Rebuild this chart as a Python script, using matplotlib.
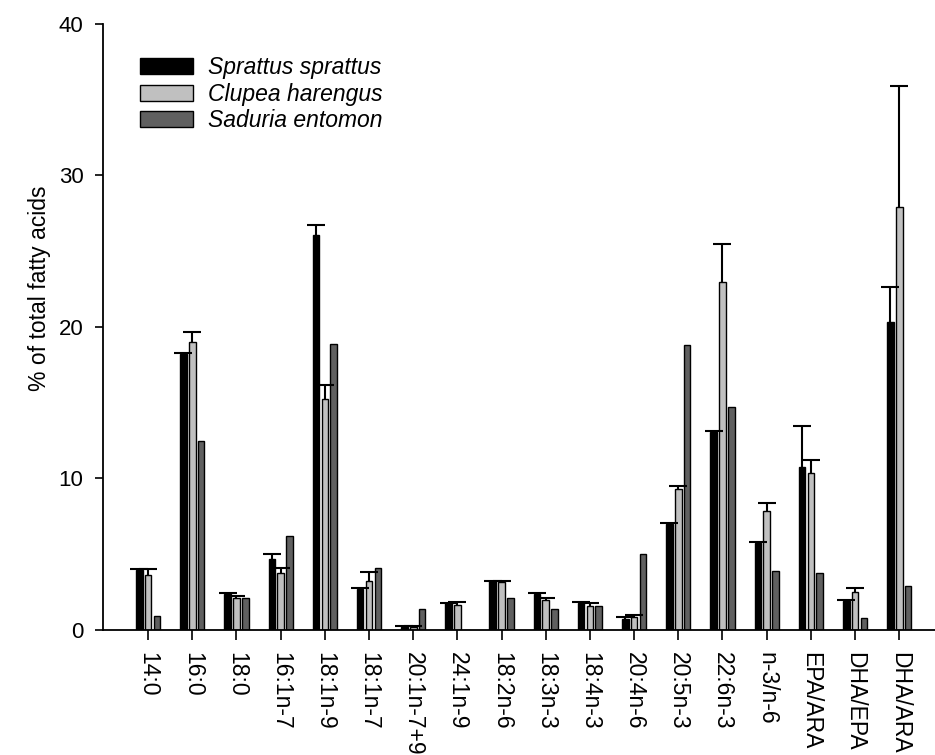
import numpy as np
import matplotlib
matplotlib.use('Agg')
import matplotlib.pyplot as plt

plt.rcParams['font.family'] = ['Liberation Sans', 'DejaVu Sans']

# Data
categories = ['14:0', '16:0', '18:0', '16:1n-7', '18:1n-9', '18:1n-7', '20:1n-7+9',
              '24:1n-9', '18:2n-6', '18:3n-3', '18:4n-3', '20:4n-6', '20:5n-3',
              '22:6n-3', 'n-3/n-6', 'EPA/ARA', 'DHA/EPA', 'DHA/ARA']

sprattus = [3.95, 18.2, 2.38, 4.7, 26.1, 2.7, 0.2, 1.75, 3.2, 2.38, 1.78, 0.7,
            7.0, 13.1, 5.74, 10.75, 1.9, 20.35]
sprattus_err = [0.05, 0.1, 0.05, 0.3, 0.6, 0.05, 0.05, 0.05, 0.05, 0.05, 0.05, 0.15,
                0.05, 0.05, 0.05, 2.7, 0.05, 2.3]

clupea = [3.65, 19.0, 2.1, 3.78, 15.25, 3.25, 0.22, 1.65, 3.15, 1.95, 1.57, 0.88,
          9.3, 22.95, 7.88, 10.38, 2.5, 27.9]
clupea_err = [0.35, 0.65, 0.15, 0.3, 0.95, 0.6, 0.05, 0.2, 0.05, 0.17, 0.2, 0.1,
              0.2, 2.5, 0.5, 0.85, 0.25, 8.0]

saduria = [0.95, 12.5, 2.1, 6.2, 18.9, 4.1, 1.37, 0.0, 2.13, 1.39, 1.6, 5.04,
           18.8, 14.7, 3.87, 3.74, 0.8, 2.92]

series = [
    ('Sprattus sprattus', sprattus, sprattus_err, '#000000'),
    ('Clupea harengus', clupea, clupea_err, '#c0c0c0'),
    ('Saduria entomon', saduria, None, '#606060'),
]


def plot_chart():
    fig = plt.figure(figsize=(9.35, 7.55), dpi=100)
    ax = fig.add_axes([0.1102, 0.1656, 0.8898, 0.8026])

    x = np.arange(len(categories))
    width = 0.15
    offsets = [-0.2, 0.0, 0.2]

    for (name, vals, err, color), off in zip(series, offsets):
        ax.bar(x + off, vals, width, color=color, edgecolor='black',
               linewidth=1.0, label=name, zorder=2)
        if err is not None:
            # upper error only: hide the lower caps
            eb = ax.errorbar(x + off, vals, yerr=[np.zeros(len(vals)), err], fmt='none',
                             ecolor='black', elinewidth=1.5, capsize=6.5, capthick=1.5,
                             zorder=3)
            eb[1][0].set_visible(False)

    ax.set_xlim(-1.02, 17.81)
    ax.set_ylim(0, 40)
    ax.set_yticks([0, 10, 20, 30, 40])
    ax.set_xticks(x)
    ax.set_xticklabels(categories, rotation=270, fontsize=16.5)
    ax.tick_params(axis='y', labelsize=16, length=6, width=1.2, direction='out', pad=8)
    ax.tick_params(axis='x', length=7, width=1.2, direction='out', pad=9)

    ax.spines['top'].set_visible(False)
    ax.spines['right'].set_visible(False)
    ax.spines['left'].set_linewidth(1.3)
    ax.spines['bottom'].set_linewidth(1.3)

    ax.set_ylabel('% of total fatty acids', fontsize=16.5)
    ax.yaxis.set_label_coords(-0.062, 0.564)

    ax.legend(loc='upper left', bbox_to_anchor=(0.034, 0.962), frameon=False,
              prop={'style': 'italic', 'size': 16.5}, handlelength=2.3,
              handleheight=0.7, labelspacing=0.15, handletextpad=0.65,
              borderaxespad=0)

    plt.savefig('out.png', dpi=100)


if __name__ == "__main__":
    plot_chart()
